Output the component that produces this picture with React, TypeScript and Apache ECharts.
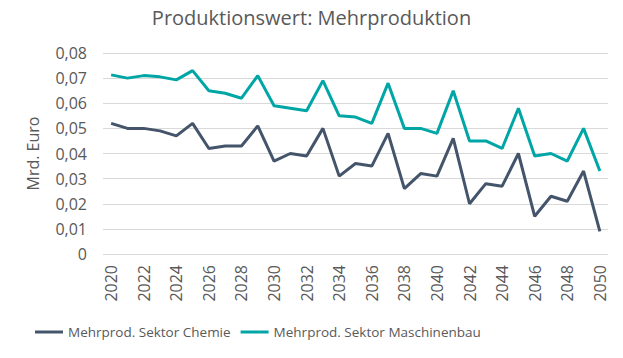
import React, { useEffect, useRef } from "react";
import * as echarts from "echarts";

const years = Array.from({ length: 31 }, (_, i) => String(2020 + i));
const chemie = [0.052, 0.05, 0.05, 0.049, 0.047, 0.052, 0.042, 0.043, 0.043, 0.051, 0.037, 0.04, 0.039, 0.05, 0.031, 0.036, 0.035, 0.048, 0.026, 0.032, 0.031, 0.046, 0.02, 0.028, 0.027, 0.04, 0.015, 0.023, 0.021, 0.033, 0.009];
const maschinenbau = [0.0713, 0.07, 0.071, 0.0705, 0.0693, 0.073, 0.065, 0.064, 0.062, 0.071, 0.059, 0.058, 0.057, 0.069, 0.055, 0.0545, 0.052, 0.068, 0.05, 0.05, 0.048, 0.065, 0.045, 0.045, 0.042, 0.058, 0.039, 0.04, 0.037, 0.05, 0.033];
const seriesNames = ["Mehrprod. Sektor Chemie", "Mehrprod. Sektor Maschinenbau"];
const colors = ["#44546A", "#00A6A6"];

export default function App() {
  const ref = useRef<HTMLDivElement>(null);
  useEffect(() => {
    const chart = echarts.init(ref.current!, null, { renderer: "svg" });
    const font = "Open Sans";
    chart.setOption({
      animation: false,
      textStyle: { fontFamily: font },
      title: {
        text: "Produktionswert: Mehrproduktion",
        left: "center",
        top: 2,
        textStyle: { fontFamily: font, fontSize: 20, fontWeight: "normal", color: "#595959" },
      },
      legend: {
        bottom: 14,
        left: 30,
        itemWidth: 28,
        itemHeight: 3,
        itemGap: 10,
        icon: "rect",
        textStyle: { fontFamily: font, fontSize: 13.5, color: "#595959" },
        data: seriesNames,
      },
      grid: { left: 103, right: 15, top: 53, bottom: 104 },
      xAxis: {
        type: "category",
        data: years,
        boundaryGap: true,
        axisLine: { show: false },
        axisTick: { show: false },
        axisLabel: { rotate: 90, interval: 1, fontSize: 16, color: "#595959", fontFamily: font, margin: 11 },
      },
      yAxis: {
        type: "value",
        min: 0,
        max: 0.08,
        interval: 0.01,
        name: "Mrd. Euro",
        nameLocation: "middle",
        nameGap: 62,
        nameRotate: 90,
        nameTextStyle: { fontSize: 16, color: "#595959", fontFamily: font },
        axisLine: { show: false },
        axisTick: { show: false },
        axisLabel: {
          fontSize: 16,
          color: "#595959",
          fontFamily: font,
          margin: 16,
          formatter: (v: number) => (v === 0 ? "0" : v.toFixed(2).replace(".", ",")),
        },
        splitLine: { lineStyle: { color: "#D9D9D9", width: 1 } },
      },
      series: [
        { name: seriesNames[0], type: "line", data: chemie, symbol: "none", lineStyle: { width: 3, color: colors[0] }, itemStyle: { color: colors[0] } },
        { name: seriesNames[1], type: "line", data: maschinenbau, symbol: "none", lineStyle: { width: 3, color: colors[1] }, itemStyle: { color: colors[1] } },
      ],
    });
    return () => chart.dispose();
  }, []);
  return <div ref={ref} style={{ position: "absolute", left: 0, top: 0, width: 623, height: 358 }} />;
}
